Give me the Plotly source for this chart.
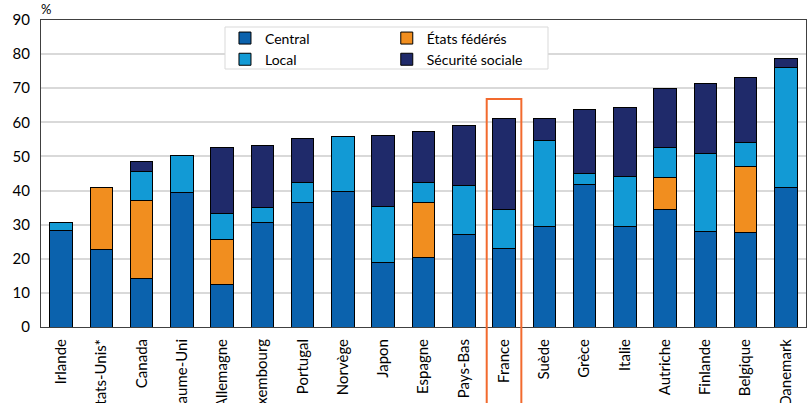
import plotly.graph_objects as go

countries = ["Irlande", "États-Unis*", "Canada", "Royaume-Uni", "Allemagne", "Luxembourg",
             "Portugal", "Norvège", "Japon", "Espagne", "Pays-Bas", "France", "Suède",
             "Grèce", "Italie", "Autriche", "Finlande", "Belgique", "Danemark"]
central = [28.3, 22.6, 14.3, 39.3, 12.5, 30.5, 36.5, 39.7, 18.8, 20.4, 27.2, 23.0, 29.5,
           41.7, 29.4, 34.5, 27.9, 27.6, 41.0]
etats_federes = [0, 18.4, 22.7, 0, 13.1, 0, 0, 0, 0, 16.0, 0, 0, 0,
                 0, 0, 9.4, 0, 19.4, 0]
local = [2.4, 0, 8.6, 11.0, 7.7, 4.6, 5.9, 16.1, 16.6, 6.0, 14.3, 11.5, 25.2,
         3.4, 14.7, 8.7, 23.0, 7.0, 35.0]
securite_sociale = [0, 0, 3.0, 0, 19.2, 18.0, 12.9, 0, 20.6, 15.0, 17.5, 26.5, 6.5,
                    18.7, 20.2, 17.4, 20.5, 19.1, 2.6]
y_ticks = [0, 10, 20, 30, 40, 50, 60, 70, 80, 90]
highlight = "France"

FONT = "Lato"
col_central = "#0B62AD"
col_etats = "#F18E1F"
col_local = "#129AD5"
col_ss = "#1F2A6A"

fig = go.Figure()
series = [
    ("Central", central, col_central, "legend"),
    ("États fédérés", etats_federes, col_etats, "legend2"),
    ("Local", local, col_local, "legend"),
    ("Sécurité sociale", securite_sociale, col_ss, "legend2"),
]
for name, vals, col, lg in series:
    fig.add_trace(go.Bar(
        x=countries, y=vals, name=name, legend=lg,
        marker=dict(color=col, line=dict(color="#000000", width=1)),
    ))

hi = countries.index(highlight)

fig.update_layout(
    width=811, height=403, autosize=False,
    margin=dict(l=41, r=5, t=20, b=76),
    barmode="stack", bargap=0.44,
    plot_bgcolor="white", paper_bgcolor="white",
    font=dict(family=FONT, size=14, color="#000000"),
    xaxis=dict(
        tickangle=-90, showgrid=False, showline=True, mirror=True,
        linecolor="#404040", linewidth=1, ticks="outside", ticklen=5, tickcolor="rgba(0,0,0,0)",
        automargin=False,
        tickfont=dict(family=FONT, size=15, color="#000000"),
    ),
    yaxis=dict(
        range=[0, 90], tickvals=y_ticks, showgrid=True, gridcolor="#d9d9d9", gridwidth=2,
        showline=True, mirror=True, linecolor="#404040", linewidth=1, ticks="",
        automargin=False, zeroline=False, ticklabelstandoff=7,
        tickfont=dict(family=FONT, size=15, color="#000000"),
    ),
    legend=dict(x=0.2405, y=0.992, xanchor="left", yanchor="top",
                bgcolor="rgba(0,0,0,0)", font=dict(family=FONT, size=14),
                traceorder="normal", itemwidth=30, tracegroupgap=0),
    legend2=dict(x=0.452, y=0.992, xanchor="left", yanchor="top",
                 bgcolor="rgba(0,0,0,0)", font=dict(family=FONT, size=14),
                 traceorder="normal", itemwidth=30, tracegroupgap=0),
    shapes=[
        dict(type="rect", xref="paper", yref="paper",
             x0=(225 - 41) / 765, x1=(548 - 41) / 765,
             y0=(327 - 69) / 307, y1=(327 - 27) / 307,
             fillcolor="white", line=dict(color="#d9d9d9", width=1), layer="above"),
        dict(type="rect", xref="x", yref="paper",
             x0=hi - 0.43, x1=hi + 0.43,
             y0=-0.3, y1=(327 - 99) / 307,
             fillcolor="rgba(0,0,0,0)", line=dict(color="#F26A2E", width=2), layer="above"),
    ],
    annotations=[
        dict(text="%", xref="paper", yref="paper", x=0, y=1, xanchor="left", yanchor="bottom",
             xshift=-2, yshift=1, showarrow=False, font=dict(family=FONT, size=13)),
    ],
)

fig.write_html(
    "out.html",
    config={"displayModeBar": False},
    post_script="document.body.style.margin='0';document.body.style.overflow='hidden';",
)
